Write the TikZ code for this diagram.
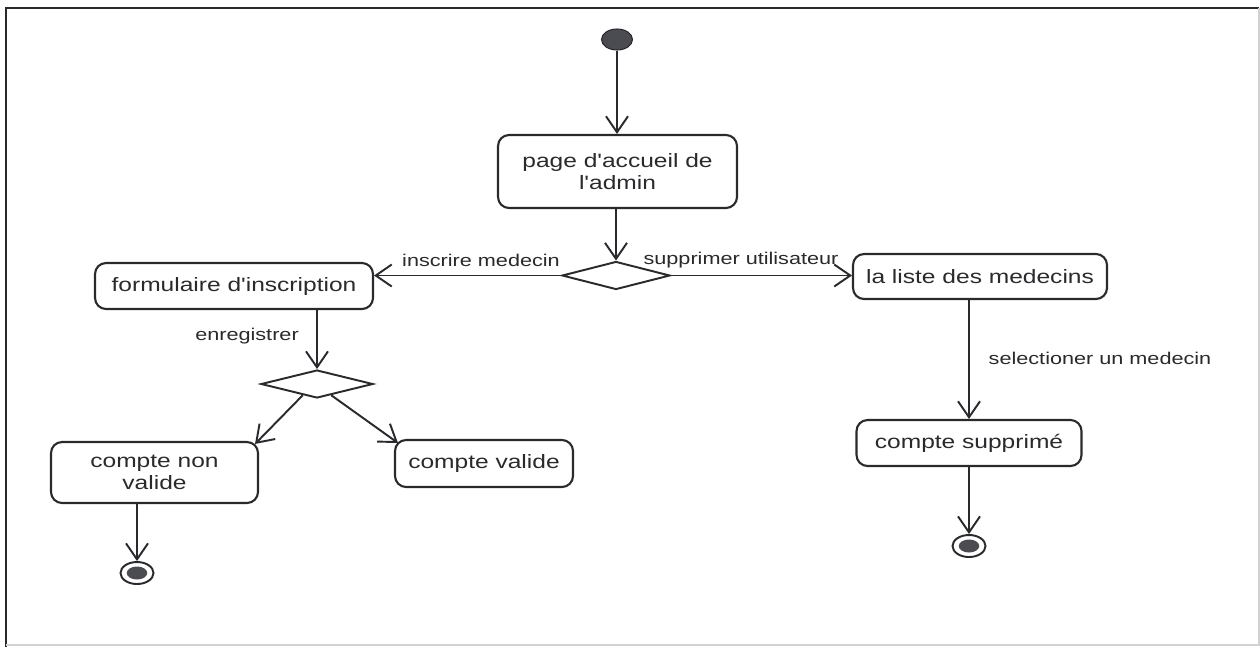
\documentclass[tikz,border=0pt]{standalone}
\usepackage{fontspec}
\newfontfamily\diagfont{Liberation Sans}[FakeStretch=1.27]
\usetikzlibrary{shapes.geometric,arrows.meta,calc}
\definecolor{ink}{HTML}{2A2A2E}
\definecolor{dot}{HTML}{4B4B52}
\begin{document}
\begin{tikzpicture}[x=0.02cm,y=-0.02cm,
  act/.style={draw=ink, line width=1.2pt, rounded corners=0.22cm, inner sep=2pt,
    align=center, text=ink, font=\diagfont\fontsize{11}{12.5}\selectfont},
  choice/.style={draw=ink, line width=1.1pt, diamond, inner sep=0pt},
  lbl/.style={text=ink, inner sep=0pt, font=\diagfont\fontsize{9.7}{11}\selectfont},
  flow/.style={draw=ink, line width=1.1pt,
    -{Straight Barb[length=0.32cm,width=0.44cm,line width=1.1pt]}},
  startdot/.style={ellipse, fill=dot, draw=ink, line width=0.6pt,
    minimum width=0.62cm, minimum height=0.42cm, inner sep=0pt},
  enddot/.style={ellipse, draw=ink, line width=1.1pt, fill=white,
    minimum width=0.66cm, minimum height=0.44cm, inner sep=0pt},
  endcore/.style={ellipse, fill=dot, minimum width=0.41cm, minimum height=0.26cm, inner sep=0pt}]

\useasboundingbox (0,0) rectangle (1260,647);
\fill[white] (0,0) rectangle (1260,647);

% page frame
\draw[ink, line width=1.1pt] (6,647) -- (6,8) -- (1259,8);
\draw[gray!35, line width=0.8pt] (1259,8) -- (1259,645) -- (6,645);

% start and decisions
\node[startdot] (start) at (617,39.5) {};
\node[act, minimum width=4.78cm, minimum height=1.46cm] (accueil) at (617.5,171.5)
  {page d'accueil de\\l'admin};
\node[choice, minimum width=2.16cm, minimum height=0.56cm] (dtop) at (616,275.5) {};

\node[act, minimum width=5.56cm, minimum height=0.92cm] (form) at (234,286)
  {formulaire d'inscription};
\node[act, minimum width=5.08cm, minimum height=0.9cm] (liste) at (980,276.5)
  {la liste des medecins};

\node[choice, minimum width=2.24cm, minimum height=0.56cm] (dmid) at (317,384) {};

\node[act, minimum width=4.14cm, minimum height=1.22cm] (nonvalide) at (154.5,472.5)
  {compte non\\valide};
\node[act, minimum width=3.56cm, minimum height=0.94cm] (valide) at (484,463.5)
  {compte valide};
\node[act, minimum width=4.5cm, minimum height=0.92cm] (supprime) at (969,443)
  {compte supprimé};

% final states
\node[enddot] (end1) at (137,573) {};
\node[endcore] (core1) at (end1.center) {};
\node[enddot] (end2) at (969,546) {};
\node[endcore] (core2) at (end2.center) {};

% transitions
\draw[flow] (start) -- (start |- accueil.north);
\draw[flow] (dtop.north |- accueil.south) -- (dtop.north);
\draw[flow] (dtop.west) -- (dtop.west -| form.east);
\draw[flow] (dtop.east) -- (dtop.east -| liste.west);
\draw[flow] (dmid.north |- form.south) -- (dmid.north);
\draw[flow] ($(dmid.south)!0.25!(dmid.west)$) -- ($(nonvalide.north east)+(-4,3)$);
\draw[flow] ($(dmid.south)!0.25!(dmid.east)$) -- ($(valide.north west)+(4,4)$);
\draw[flow] (end1.north |- nonvalide.south) -- (end1.north);
\draw[flow] (supprime.north |- liste.south) -- (supprime.north);
\draw[flow] (supprime.south) -- (end2.north);

% guard labels
\node[lbl] (linscrire) at (481,260) {inscrire medecin};
\node[lbl] (lsupprimer) at (741,260) {supprimer utilisateur};
\node[lbl] (lenreg) at (247,336) {enregistrer};
\node[lbl] (lselect) at (1100,358) {selectioner un medecin};
\end{tikzpicture}
\end{document}
